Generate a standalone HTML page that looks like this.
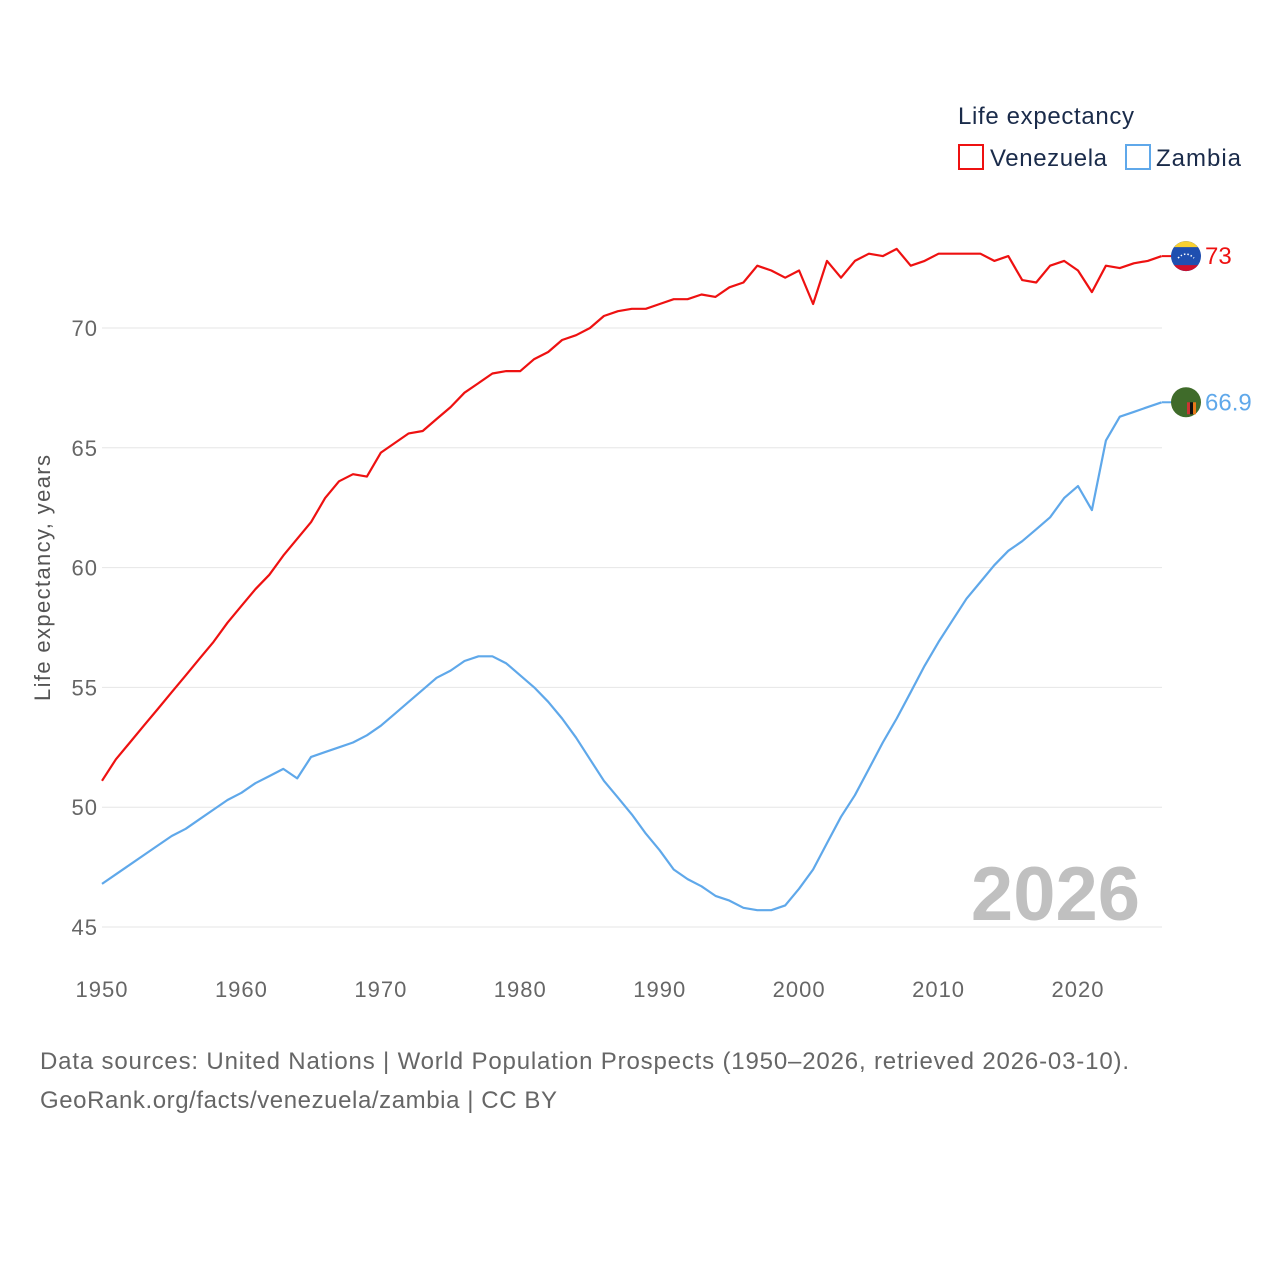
<!DOCTYPE html>
<html><head><meta charset="utf-8"><style>
body{margin:0;background:#fff;width:1280px;height:1280px;overflow:hidden;font-family:"Liberation Sans",sans-serif}
</style></head><body>
<svg id="chart" width="1280" height="1280" style="font-family:'Liberation Sans',sans-serif">
<text x="958" y="124" font-size="24" fill="#1a2b4a" textLength="176">Life expectancy</text>
<g><rect x="959" y="145" width="24" height="24" fill="none" stroke="#ee1111" stroke-width="2"/><text x="990" y="166" font-size="24" fill="#1a2b4a" textLength="117">Venezuela</text></g>
<g><rect x="1126" y="145" width="24" height="24" fill="none" stroke="#5fa8ea" stroke-width="2"/><text x="1156" y="166" font-size="24" fill="#1a2b4a" textLength="85">Zambia</text></g>
<text transform="translate(50,578) rotate(-90)" text-anchor="middle" font-size="22" fill="#555" textLength="246">Life expectancy, years</text>
<g id="grid"></g><g id="marks"></g>
<text x="1140" y="920" text-anchor="end" font-size="76" font-weight="bold" fill="#c0c0c0">2026</text>
<text x="40" y="1069" font-size="24" fill="#666" textLength="1089">Data sources: United Nations | World Population Prospects (1950–2026, retrieved 2026-03-10).</text>
<text x="40" y="1108" font-size="24" fill="#666" textLength="517">GeoRank.org/facts/venezuela/zambia | CC BY</text>
</svg>
<script>
const years=[];for(let y=1950;y<=2026;y++)years.push(y);
const venezuela=[51.1,52.0,52.7,53.4,54.1,54.8,55.5,56.2,56.9,57.7,58.4,59.1,59.7,60.5,61.2,61.9,62.9,63.6,63.9,63.8,64.8,65.2,65.6,65.7,66.2,66.7,67.3,67.7,68.1,68.2,68.2,68.7,69.0,69.5,69.7,70.0,70.5,70.7,70.8,70.8,71.0,71.2,71.2,71.4,71.3,71.7,71.9,72.6,72.4,72.1,72.4,71.0,72.8,72.1,72.8,73.1,73.0,73.3,72.6,72.8,73.1,73.1,73.1,73.1,72.8,73.0,72.0,71.9,72.6,72.8,72.4,71.5,72.6,72.5,72.7,72.8,73.0];
const zambia=[46.8,47.2,47.6,48.0,48.4,48.8,49.1,49.5,49.9,50.3,50.6,51.0,51.3,51.6,51.2,52.1,52.3,52.5,52.7,53.0,53.4,53.9,54.4,54.9,55.4,55.7,56.1,56.3,56.3,56.0,55.5,55.0,54.4,53.7,52.9,52.0,51.1,50.4,49.7,48.9,48.2,47.4,47.0,46.7,46.3,46.1,45.8,45.7,45.7,45.9,46.6,47.4,48.5,49.6,50.5,51.6,52.7,53.7,54.8,55.9,56.9,57.8,58.7,59.4,60.1,60.7,61.1,61.6,62.1,62.9,63.4,62.4,65.3,66.3,66.5,66.7,66.9];
const yTicks=[45,50,55,60,65,70];
const xTicks=[1950,1960,1970,1980,1990,2000,2010,2020];
const NS="http://www.w3.org/2000/svg";
const xS=y=>102+(y-1950)*(976/70);
const yS=v=>927-(v-45)*(599/25);
const grid=document.getElementById('grid'),marks=document.getElementById('marks');
function mk(tag,attrs,parent){const e=document.createElementNS(NS,tag);for(const k in attrs)e.setAttribute(k,attrs[k]);parent.appendChild(e);return e;}
yTicks.forEach(t=>{
 const l=mk('line',{x1:102,x2:1162,y1:yS(t),y2:yS(t),stroke:'#e6e6e6','stroke-width':1},grid);
 
 
 const tx=mk('text',{x:98,y:yS(t)+8,'text-anchor':'end','font-size':22,fill:'#666','letter-spacing':1},grid);tx.textContent=t;
 
 
});
xTicks.forEach(t=>{
 const tx=mk('text',{x:xS(t),y:997,'text-anchor':'middle','font-size':22,fill:'#666','letter-spacing':1},grid);tx.textContent=t;
 
 
});
function series(vals,color,name,label){
 const d=vals.map((v,i)=>(i?'L':'M')+xS(years[i]).toFixed(1)+','+yS(v).toFixed(1)).join('');
 const p=mk('path',{d:d,fill:'none',stroke:color,'stroke-width':2.2,'stroke-linejoin':'round'},marks);
 
 
 const last=vals[vals.length-1],ly=yS(last);
 mk('line',{x1:1162,x2:1172,y1:ly,y2:ly,stroke:color,'stroke-width':2},marks);
 const c=mk('circle',{cx:1186,cy:ly,r:15,fill:name==='venezuela'?'#1f4fb0':'#3f6b2a'},marks);
 
 
 if(name==='venezuela'){mk('path',{d:`M1174,${ly-9}A15,15 0 0 1 1198,${ly-9}Z`,fill:'#f8d030'},marks);mk('path',{d:`M1174,${ly+9}A15,15 0 0 0 1198,${ly+9}Z`,fill:'#d0102a'},marks);mk('path',{d:`M1178,${ly+2}Q1186,${ly-6} 1194,${ly+2}`,fill:'none',stroke:'#fff','stroke-width':1.5,'stroke-dasharray':'1.5 2'},marks);}
 else{mk('rect',{x:1187,y:ly,width:3,height:12,fill:'#c33'},marks);mk('rect',{x:1190,y:ly,width:3,height:12,fill:'#111'},marks);mk('rect',{x:1193,y:ly,width:3,height:12,fill:'#e87a1a'},marks);}
 const t=mk('text',{x:1205,y:ly+8,'font-size':24,fill:color},marks);t.textContent=label;
 
 
}
series(venezuela,'#ee1111','venezuela','73');
series(zambia,'#5fa8ea','zambia','66.9');
</script>
</body></html>
